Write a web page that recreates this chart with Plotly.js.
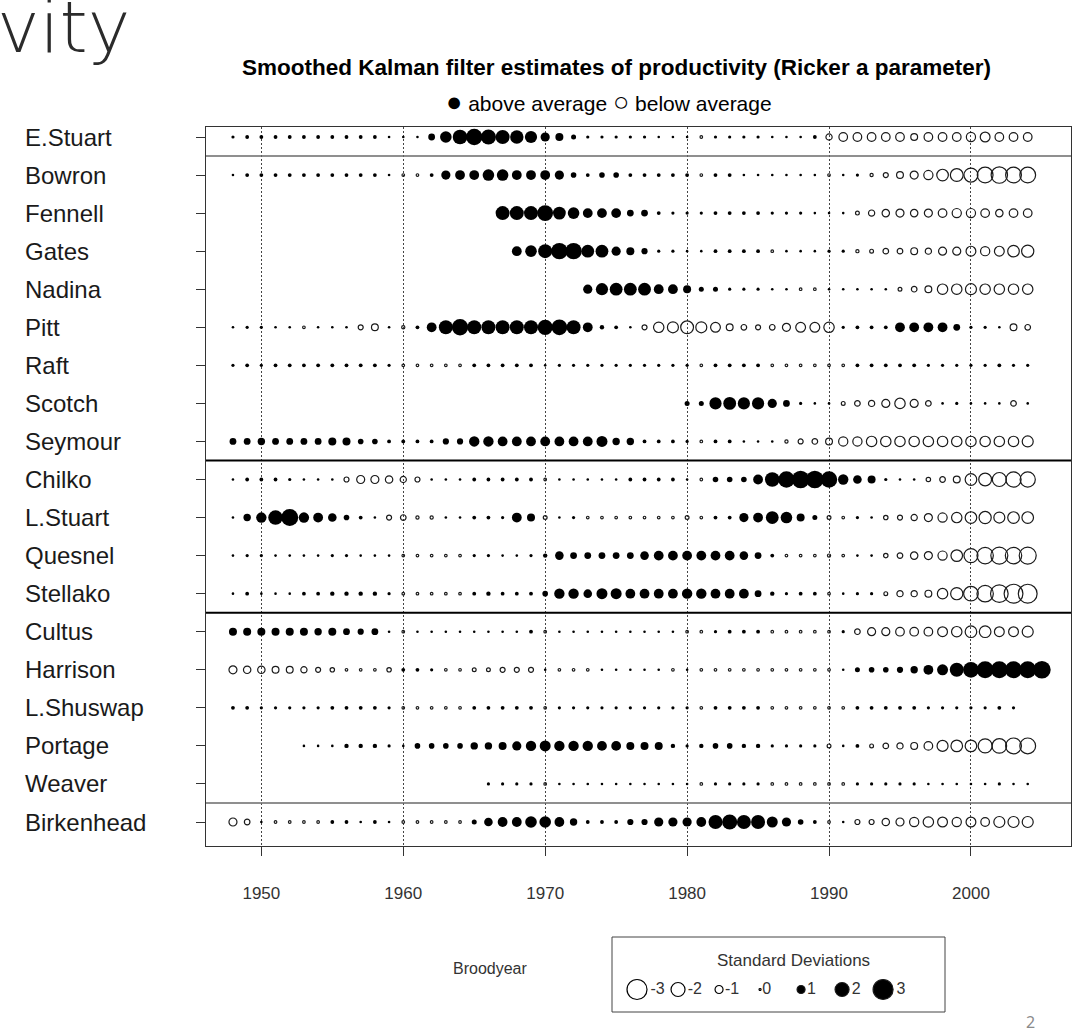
<!DOCTYPE html>
<html>
<head>
<meta charset="utf-8">
<script src="https://cdn.plot.ly/plotly-3.0.1.min.js"></script>
<style>
  html, body { margin: 0; padding: 0; background: #ffffff; }
  #chart { width: 1080px; height: 1030px; }
</style>
</head>
<body>
<div id="chart"></div>
<script>
// Stocks, top to bottom, and the first brood year of each series
const stocks = ['E.Stuart', 'Bowron', 'Fennell', 'Gates', 'Nadina', 'Pitt', 'Raft', 'Scotch', 'Seymour',
  'Chilko', 'L.Stuart', 'Quesnel', 'Stellako', 'Cultus', 'Harrison', 'L.Shuswap', 'Portage', 'Weaver', 'Birkenhead'];
const firstYear = [1948, 1948, 1967, 1968, 1973, 1948, 1948, 1980, 1948,
  1948, 1948, 1948, 1948, 1948, 1948, 1948, 1953, 1966, 1948];

// Smoothed productivity, in standard deviations from each stock's mean, one value per brood year
const eStuart = [0.2, 0.3,
  0.3, 0.3, 0.3, 0.3, 0.3, 0.3, 0.3, 0.3, 0.3, 0.1,
  0.1, 0.1, 0.8, 1.6, 2.1, 2.4, 2.2, 2.0, 1.9, 1.7,
  1.2, 1.0, 0.5, 0.2, 0.2, 0.2, 0.2, 0.2, 0.1, 0.1,
  0.1, -0.1, 0.2, 0.2, 0.2, 0.2, 0.1, 0.1, 0.1, 0.3,
  -0.7, -1.1, -1.1, -1.1, -1.1, -1.1, -0.8, -1.1, -1.1, -1.1,
  -1.2, -1.3, -1.1, -1.1, -1.1];
const bowron = [0.1, 0.3,
  0.3, 0.3, 0.3, 0.3, 0.3, 0.3, 0.3, 0.3, 0.3, 0.1,
  -0.1, -0.1, 0.3, 1.2, 1.3, 1.3, 1.6, 1.6, 1.3, 1.3,
  1.3, 1.2, 0.6, 0.3, 0.6, 0.6, 0.3, 0.3, 0.3, 0.3,
  0.3, -0.1, 0.3, 0.3, 0.1, 0.1, 0.1, 0.1, 0.1, 0.1,
  -0.1, 0.1, 0.2, -0.2, -0.5, -0.8, -1.0, -1.2, -1.6, -1.8,
  -2.0, -2.3, -2.4, -2.3, -2.3];
const fennell = [2.0, 2.0, 2.0,
  2.3, 1.8, 1.6, 1.3, 1.3, 1.3, 0.8, 0.8, 0.3, 0.2,
  0.2, 0.2, 0.3, 0.3, 0.3, 0.3, 0.2, 0.2, 0.2, 0.1,
  0.1, 0.1, -0.3, -0.7, -0.9, -1.0, -0.9, -1.0, -1.1, -1.2,
  -1.2, -1.1, -0.9, -1.1, -1.1];
const gates = [1.3, 1.6,
  2.0, 2.4, 2.4, 1.8, 1.8, 1.2, 1.0, 0.7, 0.2, 0.2,
  0.1, 0.1, 0.3, 0.3, 0.3, 0.3, -0.1, 0.1, 0.1, 0.1,
  0.2, 0.2, -0.2, -0.3, -0.6, -0.6, -0.8, -0.7, -1.0, -1.0,
  -1.3, -1.2, -1.3, -1.6, -1.7];
const nadina = [1.2, 1.7, 1.8, 1.8, 1.8, 1.3, 1.3,
  1.0, 0.5, 0.5, 0.2, 0.2, 0.2, 0.1, 0.1, -0.1, -0.1,
  0.1, 0.1, 0.1, 0.1, 0.1, -0.3, -0.6, -0.8, -1.4, -1.4,
  -1.5, -1.4, -1.4, -1.4, -1.4];
const pitt = [0.1, 0.2,
  0.2, 0.1, 0.1, -0.1, 0.1, 0.1, 0.1, -0.5, -0.8, 0.1,
  -0.2, 0.3, 1.3, 2.0, 2.4, 2.0, 2.0, 2.0, 2.0, 2.0,
  2.2, 2.3, 2.0, 1.3, 0.4, 0.3, 0.1, -0.5, -1.4, -1.5,
  -1.8, -1.5, -1.3, -0.8, -0.6, -0.5, -0.6, -1.0, -1.3, -1.3,
  -1.4, 0.2, 0.3, 0.3, 0.3, 1.3, 1.3, 1.3, 1.3, 0.8,
  0.2, 0.2, 0.1, -0.8, -0.6];
const raft = [0.2, 0.3,
  0.2, 0.3, 0.3, 0.3, 0.3, 0.3, 0.3, 0.3, 0.3, 0.2,
  -0.1, -0.1, -0.1, -0.1, -0.1, 0.3, 0.3, 0.3, 0.3, 0.3,
  0.1, 0.2, 0.2, 0.2, 0.2, 0.2, 0.2, 0.2, 0.2, 0.2,
  0.2, -0.1, 0.3, 0.3, 0.3, 0.3, -0.1, -0.1, -0.1, -0.1,
  -0.1, -0.1, 0.3, 0.3, 0.3, 0.3, 0.3, 0.2, 0.2, 0.2,
  0.2, 0.2, 0.3, 0.2, 0.2];
const scotch = [0.5, 0.5, 1.7, 1.8, 1.7, 1.7, 1.2, 0.8, 0.2, 0.1,
  0.1, -0.3, -0.6, -0.7, -1.0, -1.4, -1.0, -0.6, 0.1, 0.2,
  0.1, 0.1, 0.1, -0.6, 0.1];
const seymour = [0.8, 0.8,
  0.9, 0.8, 0.8, 0.8, 0.8, 1.0, 1.0, 0.6, 0.6, 0.3,
  0.3, 0.3, 0.3, 0.7, 0.7, 1.4, 1.4, 1.3, 1.3, 1.3,
  1.3, 1.3, 1.3, 1.3, 1.5, 0.9, 0.9, 0.3, 0.3, 0.3,
  0.2, -0.1, 0.3, 0.3, 0.1, 0.1, 0.1, -0.2, -0.5, -0.6,
  -0.8, -1.2, -1.2, -1.4, -1.4, -1.4, -1.4, -1.4, -1.4, -1.4,
  -1.4, -1.4, -1.4, -1.4, -1.5];
const chilko = [0.1, 0.3,
  0.3, 0.3, 0.2, 0.1, 0.1, 0.1, -0.5, -1.0, -1.0, -0.9,
  -0.7, -0.5, 0.1, 0.1, 0.1, 0.3, 0.3, 0.3, 0.3, 0.3,
  -0.1, 0.1, 0.1, 0.1, 0.1, 0.1, 0.3, 0.3, 0.3, 0.3,
  0.1, -0.1, 0.6, 0.6, 0.6, 1.3, 2.1, 2.4, 2.6, 2.6,
  2.4, 1.4, 1.1, 1.0, 0.2, 0.1, 0.1, -0.4, -0.6, -0.8,
  -1.6, -1.8, -2.0, -2.2, -2.2];
const lStuart = [0.1, 0.9,
  1.4, 2.1, 2.5, 1.4, 1.3, 1.1, 0.6, 0.3, 0.1, -0.5,
  -0.6, -0.2, -0.2, 0.1, 0.1, 0.3, 0.3, 0.2, 1.3, 1.0,
  -0.3, 0.1, 0.2, -0.1, -0.1, -0.1, -0.1, -0.1, -0.1, -0.1,
  -0.3, -0.1, 0.3, 0.3, 1.2, 1.3, 1.8, 1.6, 1.0, 0.5,
  -0.3, -0.1, 0.2, 0.1, -0.4, -0.5, -0.7, -1.0, -1.2, -1.4,
  -1.6, -1.7, -1.5, -1.6, -1.6];
const quesnel = [0.1, 0.2,
  0.2, 0.1, 0.1, 0.1, 0.1, 0.2, 0.2, 0.1, 0.1, 0.1,
  -0.1, -0.1, -0.1, -0.1, -0.1, 0.2, 0.2, 0.1, 0.1, 0.2,
  0.4, 1.1, 0.8, 0.8, 0.8, 0.8, 0.8, 1.1, 1.3, 1.3,
  1.3, 1.3, 1.3, 1.3, 1.1, 0.8, 0.3, -0.1, -0.1, -0.1,
  -0.2, -0.1, 0.1, 0.1, -0.4, -0.6, -0.9, -1.0, -1.2, -1.6,
  -2.0, -2.4, -2.5, -2.4, -2.5];
const stellako = [0.1, 0.3,
  0.1, 0.1, 0.1, 0.3, 0.3, 0.4, 0.4, 0.4, 0.4, 0.2,
  -0.1, -0.1, -0.1, -0.1, -0.1, 0.3, 0.4, 0.3, 0.3, 0.3,
  0.6, 1.4, 1.4, 1.1, 1.5, 1.5, 1.3, 1.3, 1.3, 1.3,
  1.4, 1.4, 1.3, 1.3, 1.3, 0.8, 0.4, 0.2, 0.3, 0.3,
  -0.1, 0.1, 0.2, 0.2, -0.3, -0.7, -0.7, -0.8, -1.4, -1.7,
  -2.1, -2.4, -2.6, -2.8, -2.8];
const cultus = [1.0, 1.0,
  1.0, 1.0, 1.0, 1.0, 0.9, 1.0, 0.8, 0.7, 0.8, 0.1,
  -0.1, 0.1, 0.1, 0.1, 0.1, 0.1, 0.1, 0.1, 0.1, 0.3,
  -0.1, 0.1, 0.1, 0.1, 0.1, 0.1, 0.1, 0.1, 0.1, 0.1,
  -0.1, -0.1, 0.2, 0.3, 0.3, 0.3, -0.1, -0.1, -0.1, -0.1,
  -0.1, 0.2, -0.6, -1.0, -1.0, -1.1, -1.1, -1.1, -1.3, -1.4,
  -1.6, -1.6, -1.3, -1.3, -1.5];
const harrison = [-1.0, -0.9,
  -0.9, -0.8, -0.8, -0.7, -0.5, -0.4, -0.1, -0.1, -0.1, -0.4,
  0.3, 0.3, 0.2, -0.1, -0.1, -0.3, -0.3, -0.5, -0.5, -0.5,
  0.1, -0.1, -0.1, -0.1, 0.1, 0.1, 0.1, 0.1, 0.1, -0.1,
  0.1, -0.1, -0.1, -0.1, -0.1, -0.1, -0.1, -0.1, -0.1, -0.1,
  -0.1, 0.1, 0.5, 0.6, 0.6, 0.7, 0.9, 1.3, 1.5, 2.0,
  2.3, 2.5, 2.5, 2.5, 2.5, 2.6];
const lShuswap = [0.3, 0.3,
  0.2, 0.2, 0.2, 0.2, 0.2, 0.3, 0.3, 0.3, 0.3, 0.2,
  -0.1, -0.1, -0.1, -0.1, -0.1, 0.3, 0.3, 0.3, 0.3, 0.3,
  -0.1, 0.2, 0.2, 0.2, 0.2, 0.2, 0.2, 0.2, 0.2, 0.2,
  0.2, -0.1, 0.3, 0.3, 0.3, 0.3, -0.1, -0.1, -0.1, -0.1,
  -0.1, -0.1, 0.3, 0.3, 0.3, 0.3, 0.3, 0.2, 0.2, 0.2,
  0.2, 0.2, 0.3, 0.2];
const portage = [0.1, 0.1, 0.1, 0.4, 0.4, 0.4, 0.2,
  0.1, 0.6, 0.6, 0.6, 0.6, 0.9, 0.9, 1.0, 1.2, 1.4,
  1.5, 1.4, 1.4, 1.4, 1.3, 1.3, 1.0, 1.0, 1.0, 0.4,
  0.2, 0.4, 0.6, 0.6, 0.4, 0.4, 0.2, 0.2, 0.2, 0.2,
  -0.3, 0.1, 0.3, -0.3, -0.6, -0.7, -0.8, -1.1, -1.5, -1.6,
  -1.6, -2.0, -2.1, -2.3, -2.3];
const weaver = [0.2, 0.2, 0.2, 0.2,
  -0.1, 0.1, 0.1, 0.1, 0.1, 0.1, 0.1, 0.1, 0.1, 0.1,
  0.1, -0.1, 0.2, 0.2, 0.2, 0.2, -0.1, -0.1, -0.1, -0.1,
  -0.1, -0.1, 0.2, 0.2, 0.2, 0.2, 0.2, 0.1, 0.1, 0.1,
  0.1, 0.1, 0.2, 0.1, 0.1];
const birkenhead = [-1.0, -0.6,
  0.1, -0.1, -0.1, -0.1, -0.1, 0.3, 0.3, 0.1, 0.3, 0.1,
  -0.1, -0.1, -0.1, -0.1, -0.1, 0.5, 1.1, 1.3, 1.3, 1.6,
  1.6, 1.3, 0.9, 0.3, 0.3, 0.3, 0.7, 0.7, 1.2, 1.2,
  1.2, 1.3, 2.0, 2.2, 2.0, 2.0, 1.5, 1.2, 0.6, 0.3,
  -0.1, 0.1, -0.5, -0.5, -0.9, -1.0, -1.2, -1.4, -1.3, -1.2,
  -1.3, -1.1, -1.5, -1.5, -1.5];

const series = [eStuart, bowron, fennell, gates, nadina, pitt, raft, scotch, seymour,
  chilko, lStuart, quesnel, stellako, cultus, harrison, lShuswap, portage, weaver, birkenhead];

// Rows after which a group separator is drawn
const groupEnds = ['E.Stuart', 'Seymour', 'Stellako', 'Weaver'];
const decadeTicks = [1950, 1960, 1970, 1980, 1990, 2000];
const legendValues = [-3, -2, -1, 0, 1, 2, 3];
const legendLabels = ['-3', '-2', '-1', '0', '1', '2', '3'];

// ---- drawing ----
const W = 1080, H = 1030;
const px = v => v / W;            // horizontal pixel -> paper
const py = v => 1 - v / H;        // vertical pixel -> paper
const FONT = "'Liberation Sans', Arial, sans-serif";
const NARROW = "'Liberation Sans Narrow', 'Arial Narrow', 'Liberation Sans', Arial, sans-serif";

// circle diameter grows with the size of the deviation
const diameter = v => 2 + 6 * Math.abs(v);

const above = { x: [], y: [], s: [] };
const below = { x: [], y: [], s: [] };
series.forEach((vals, i) => {
  vals.forEach((v, j) => {
    const t = v > 0 ? above : below;
    t.x.push(firstYear[i] + j);
    t.y.push(stocks[i]);
    t.s.push(diameter(v));
  });
});

const traces = [
  {
    type: 'scatter', mode: 'markers', x: below.x, y: below.y, xaxis: 'x', yaxis: 'y', opacity: 1,
    marker: { symbol: 'circle-open', size: below.s, color: '#1a1a1a', opacity: 1, line: { color: '#1a1a1a', width: 1.2 } },
    hoverinfo: 'skip', showlegend: false
  },
  {
    type: 'scatter', mode: 'markers', x: above.x, y: above.y, xaxis: 'x', yaxis: 'y', opacity: 1,
    marker: { symbol: 'circle', size: above.s, color: '#000', opacity: 1, line: { width: 0 } },
    hoverinfo: 'skip', showlegend: false
  },
  // size key
  {
    type: 'scatter', mode: 'markers+text', xaxis: 'x2', yaxis: 'y2', opacity: 1,
    x: legendValues, y: legendValues.map(() => 0.3),
    text: legendLabels, textposition: 'middle right',
    textfont: { family: NARROW, size: 16, color: '#333' },
    marker: {
      size: legendValues.map(diameter), opacity: 1,
      symbol: legendValues.map(v => v > 0 ? 'circle' : 'circle-open'),
      color: '#000', line: { color: '#1a1a1a', width: 1.2 }
    },
    cliponaxis: false, hoverinfo: 'skip', showlegend: false
  }
];

// plot frame in pixels
const L = 206, R = 1071, T = 127, B = 846;

const rowIndex = name => stocks.indexOf(name);
const shapes = groupEnds.map((name, k) => {
  const outer = (k === 0 || k === groupEnds.length - 1);
  return {
    type: 'line', xref: 'paper', yref: 'y', layer: 'above',
    x0: px(L), x1: px(R), y0: rowIndex(name) + 0.5, y1: rowIndex(name) + 0.5,
    line: { color: outer ? '#6a6a6a' : '#000', width: outer ? 1.5 : 2 }
  };
});
// size-key box
shapes.push({
  type: 'rect', xref: 'paper', yref: 'paper',
  x0: px(612), x1: px(945), y0: py(1012), y1: py(937),
  line: { color: '#444', width: 1 }, fillcolor: 'rgba(0,0,0,0)'
});

const annotations = stocks.map(name => ({
  xref: 'paper', yref: 'y', x: px(23), y: name, xanchor: 'left', yanchor: 'middle',
  text: name, showarrow: false, font: { family: FONT, size: 24, color: '#1a1a1a' }
}));
annotations.push(
  { xref: 'paper', yref: 'paper', x: px(616), y: py(68), xanchor: 'center', yanchor: 'middle', showarrow: false,
    text: '<b>Smoothed Kalman filter estimates of productivity (Ricker a parameter)</b>',
    font: { family: FONT, size: 22.5, color: '#000' } },
  { xref: 'paper', yref: 'paper', x: px(609), y: py(102), xanchor: 'center', yanchor: 'middle', showarrow: false,
    text: '<span style="font-size:27px">●</span> above average <span style="font-size:27px">○</span> below average',
    font: { family: FONT, size: 21, color: '#000' } },
  { xref: 'paper', yref: 'paper', x: px(490), y: py(968), xanchor: 'center', yanchor: 'middle', showarrow: false,
    text: 'Broodyear', font: { family: FONT, size: 16, color: '#333' } },
  { xref: 'paper', yref: 'paper', x: px(793), y: py(960), xanchor: 'center', yanchor: 'middle', showarrow: false,
    text: 'Standard Deviations', font: { family: NARROW, size: 17, color: '#333' } },
  { xref: 'paper', yref: 'paper', x: px(-5), y: py(-17), xanchor: 'left', yanchor: 'top', showarrow: false,
    text: 'vity', font: { family: "'DejaVu Sans', 'Noto Sans', sans-serif", size: 72, color: '#2b2b2b', weight: 300 } },
  { xref: 'paper', yref: 'paper', x: px(1030), y: py(1022), xanchor: 'center', yanchor: 'middle', showarrow: false,
    text: '2', font: { family: "'Noto Sans', sans-serif", size: 16, color: '#8a8a8a' } }
);

// category axis range so that rows sit 38 px apart with the frame at T and B
const rowStep = (822 - 137) / (stocks.length - 1);

const layout = {
  width: W, height: H,
  margin: { l: 0, r: 0, t: 0, b: 0 },
  paper_bgcolor: '#ffffff', plot_bgcolor: '#ffffff',
  showlegend: false,
  xaxis: {
    domain: [px(L), px(R)], range: [1946.1, 2007.05],
    tickmode: 'array', tickvals: decadeTicks, ticktext: decadeTicks.map(String),
    ticks: 'outside', ticklen: 9, tickcolor: '#333', tickwidth: 1,
    ticklabelstandoff: 23,
    tickfont: { family: NARROW, size: 17, color: '#333' },
    showgrid: true, gridcolor: '#444', gridwidth: 1, griddash: '2px,2px',
    showline: true, mirror: true, linecolor: '#333', linewidth: 1,
    zeroline: false, fixedrange: true
  },
  yaxis: {
    domain: [py(B), py(T)], type: 'category',
    categoryorder: 'array', categoryarray: stocks,
    range: [stocks.length - 1 + (B - 822) / rowStep, -(137 - T) / rowStep],
    ticks: 'outside', ticklen: 9, tickcolor: '#333', tickwidth: 1,
    showticklabels: false, showgrid: false,
    showline: true, mirror: true, linecolor: '#333', linewidth: 1,
    zeroline: false, fixedrange: true
  },
  xaxis2: {
    domain: [px(612), px(945)], range: [-3.61, 4.51], anchor: 'y2',
    visible: false, fixedrange: true
  },
  yaxis2: {
    domain: [py(1012), py(937)], range: [0, 1], anchor: 'x2',
    visible: false, fixedrange: true
  },
  shapes: shapes,
  annotations: annotations
};

Plotly.newPlot('chart', traces, layout, { displayModeBar: false, staticPlot: true });
</script>
</body>
</html>
